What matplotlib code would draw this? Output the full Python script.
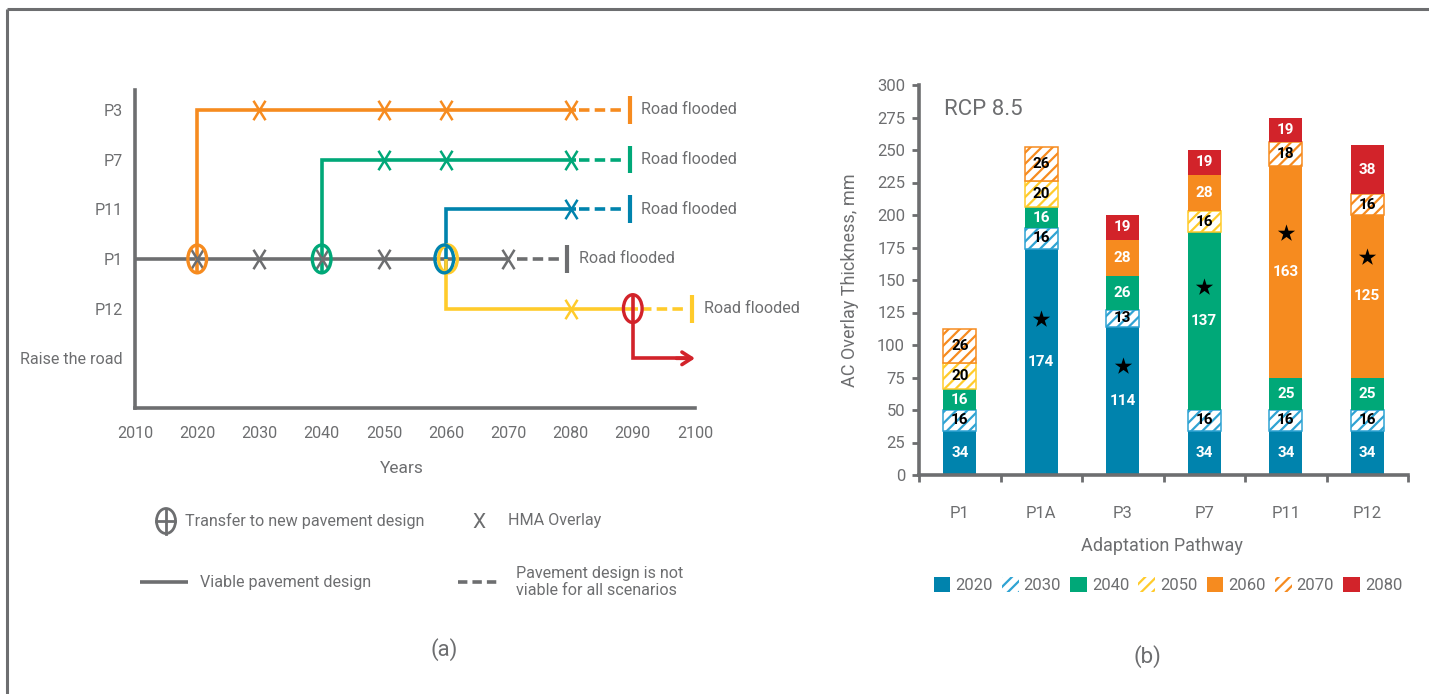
import matplotlib
matplotlib.use('Agg')
import matplotlib.pyplot as plt
import numpy as np
from matplotlib.patches import Ellipse, Patch
from matplotlib.path import Path

plt.rcParams['font.family'] = ['Roboto', 'DejaVu Sans']
plt.rcParams['hatch.linewidth'] = 1.6

GRAY = '#6d6e70'
TXT = '#6d6e70'
FS = 11.6

# ---------------- Panel (a) data ----------------
year_ticks = [2010, 2020, 2030, 2040, 2050, 2060, 2070, 2080, 2090, 2100]
row_labels = ['P3', 'P7', 'P11', 'P1', 'P12', 'Raise the road']
row_levels = [6, 5, 4, 3, 2, 1]

path_names = ['P1', 'P3', 'P7', 'P11', 'P12']
path_rows = [3, 6, 5, 4, 2]
path_branch = [2010, 2020, 2040, 2060, 2060]
path_solid_end = [2070, 2080, 2080, 2080, 2090]
path_flooded = [2080, 2090, 2090, 2090, 2100]

overlays_P1 = [2020, 2030, 2040, 2050, 2070]
overlays_P3 = [2030, 2050, 2060, 2080]
overlays_P7 = [2050, 2060, 2080]
overlays_P11 = [2080]
overlays_P12 = [2080]

transfer_years = [2020, 2040, 2060, 2060]
transfer_targets = ['P3', 'P7', 'P12', 'P11']

raise_year = 2090
raise_from_row = 2
raise_row = 1
raise_end = 2100

# ---------------- Panel (b) data ----------------
pathways = ['P1', 'P1A', 'P3', 'P7', 'P11', 'P12']
series_years = ['2020', '2030', '2040', '2050', '2060', '2070', '2080']
v2020 = [34, 174, 114, 34, 34, 34]
v2030 = [16, 16, 13, 16, 16, 16]
v2040 = [16, 16, 26, 137, 25, 25]
v2050 = [20, 20, 0, 16, 0, 0]
v2060 = [0, 0, 28, 28, 163, 125]
v2070 = [26, 26, 0, 0, 18, 16]
v2080 = [0, 0, 19, 19, 19, 38]
star_values = [np.nan, 120, 84, 145, 186, 168]
y_ticks_b = list(range(0, 301, 25))

# ---------------- styles ----------------
path_colors = {'P1': GRAY, 'P3': '#F68B1F', 'P7': '#00A878',
               'P11': '#0083AD', 'P12': '#FFCB2B', 'raise': '#D2232A'}
series_colors = ['#0083AD', '#2FA3D3', '#00A878', '#FFCB2B', '#F68B1F', '#F68B1F', '#D2232A']
series_hatched = [False, True, False, True, False, True, False]

xmark = Path([(-0.62, -1), (0.62, 1), (-0.62, 1), (0.62, -1)],
             [Path.MOVETO, Path.LINETO, Path.MOVETO, Path.LINETO])

fig = plt.figure(figsize=(14.29, 6.94), dpi=100)

# overlay axes in pixel coordinates for frame & legend (a)
lax = fig.add_axes([0, 0, 1, 1])
lax.set_xlim(0, 1429)
lax.set_ylim(694, 0)
lax.axis('off')

# frame lines
lax.plot([7, 1429], [9, 9], color=GRAY, lw=2.2, solid_capstyle='butt')
lax.plot([7, 7], [9, 694], color=GRAY, lw=2.2, solid_capstyle='butt')

# ---------------- Panel (a) ----------------
ax = fig.add_axes([135 / 1429, 1 - 408 / 694, 560 / 1429, 318 / 694])
ax.set_facecolor('none')
ax.set_xlim(2010, 2100)
ax.set_ylim(0, 6.4)
for s in ['top', 'right']:
    ax.spines[s].set_visible(False)
for s in ['left', 'bottom']:
    ax.spines[s].set_color(GRAY)
    ax.spines[s].set_linewidth(2.6)
ax.set_xticks(year_ticks)
ax.set_yticks(row_levels, row_labels)
ax.tick_params(axis='x', length=0, pad=13, labelsize=FS, labelcolor=TXT)
ax.tick_params(axis='y', length=0, pad=9, labelsize=FS, labelcolor=TXT)

LW = 2.6
EH = 0.28  # half-height of the ellipse in row units
EW = 3.0   # ellipse width in years
overlay_lists = {'P1': overlays_P1, 'P3': overlays_P3, 'P7': overlays_P7,
                 'P11': overlays_P11, 'P12': overlays_P12}

for name, r, b, se, fl in zip(path_names, path_rows, path_branch, path_solid_end, path_flooded):
    c = path_colors[name]
    if name == 'P1':
        xs, ys = [b, se + 0.3], [r, r]
    else:
        start = 3 - EH if r > 3 else 3
        xs, ys = [b, b, se + 0.8], [start, r, r]
    ax.plot(xs, ys, color=c, lw=LW, solid_joinstyle='miter', solid_capstyle='butt',
            zorder=2, clip_on=False)
    ax.plot([se + 1.4, fl - 1.1], [r, r], color=c, lw=LW, ls=(0, (2.9, 1.45)),
            dash_capstyle='butt', zorder=2, clip_on=False)
    ax.plot([fl - 0.5, fl - 0.5], [r - 0.28, r + 0.28], color=c, lw=3.0,
            solid_capstyle='butt', zorder=2, clip_on=False)
    ax.text(fl + 1.4, r, 'Road flooded', va='center', ha='left', fontsize=FS, color=TXT)
    ov = overlay_lists[name]
    ax.plot(ov, [r] * len(ov), ls='none', marker=xmark, ms=14, mew=1.8,
            color=c, zorder=3, clip_on=False)

# transfer circles on P1
offsets = {'P3': 0.0, 'P7': 0.0, 'P12': 0.3, 'P11': -0.3}
for yr, tgt in zip(transfer_years, transfer_targets):
    e = Ellipse((yr + offsets[tgt], 3), width=EW, height=2 * EH, fill=False,
                ec=path_colors[tgt], lw=2.4, zorder=4)
    ax.add_patch(e)

# raise the road
rc = path_colors['raise']
ax.add_patch(Ellipse((raise_year, raise_from_row), width=EW, height=2 * EH, fill=False,
                     ec=rc, lw=2.4, zorder=4))
ax.plot([raise_year, raise_year, raise_end - 0.6], [raise_from_row + EH, raise_row, raise_row],
        color=rc, lw=LW, solid_joinstyle='miter', solid_capstyle='butt', zorder=4, clip_on=False)
ax.annotate('', xy=(raise_end, raise_row), xytext=(raise_end - 3, raise_row),
            arrowprops=dict(arrowstyle='->,head_length=0.7,head_width=0.45', color=rc,
                            lw=LW, shrinkA=0, shrinkB=0), annotation_clip=False)

# texts panel (a)
lax.text(402, 468, 'Years', ha='center', va='center', fontsize=12.5, color=TXT)
lax.text(444, 650, '(a)', ha='center', va='center', fontsize=16, color=TXT)

# legend (a)
lax.add_patch(Ellipse((166, 521), width=19, height=25, fill=False, ec=GRAY, lw=2.0))
lax.plot([166, 166], [508.5, 533.5], color=GRAY, lw=2.0)
lax.plot([156.5, 175.5], [521, 521], color=GRAY, lw=2.0)
lax.text(185, 521, 'Transfer to new pavement design', va='center', ha='left',
         fontsize=FS, color=TXT)
lax.text(479, 522, 'X', va='center', ha='center', fontsize=15, color=TXT)
lax.text(508, 521, 'HMA Overlay', va='center', ha='left', fontsize=FS, color=TXT)
lax.plot([140, 188], [582, 582], color=GRAY, lw=LW, solid_capstyle='butt')
lax.text(200, 582, 'Viable pavement design', va='center', ha='left', fontsize=FS, color=TXT)
lax.plot([458, 497], [582, 582], color=GRAY, lw=LW, ls=(0, (2.6, 1.4)), dash_capstyle='butt')
lax.text(516, 582, 'Pavement design is not\nviable for all scenarios', va='center',
         ha='left', fontsize=FS, color=TXT, linespacing=1.2)

# ---------------- Panel (b) ----------------
axb = fig.add_axes([919 / 1429, 1 - 475 / 694, 489 / 1429, 390 / 694])
axb.set_facecolor('none')
x = np.arange(len(pathways))
all_series = [v2020, v2030, v2040, v2050, v2060, v2070, v2080]
bottom = np.zeros(len(pathways))
W = 0.41
for vals, col, hat in zip(all_series, series_colors, series_hatched):
    v = np.array(vals, dtype=float)
    m = v > 0
    if hat:
        axb.bar(x[m], v[m], bottom=bottom[m], width=W, color='white', edgecolor=col,
                hatch='///', lw=1.1, zorder=2)
    else:
        axb.bar(x[m], v[m], bottom=bottom[m], width=W, color=col, lw=0, zorder=2)
    for xi, vi, bi in zip(x[m], v[m], bottom[m]):
        axb.text(xi, bi + vi / 2, f'{int(vi)}', ha='center', va='center', fontsize=11,
                 fontweight='bold', color='black' if hat else 'white', zorder=4)
    bottom += v

axb.scatter(x, star_values, marker='*', s=170, color='black', zorder=5, lw=0)

axb.set_xlim(-0.5, len(pathways) - 0.5)
axb.set_ylim(0, 300)
for s in ['top', 'right']:
    axb.spines[s].set_visible(False)
for s in ['left', 'bottom']:
    axb.spines[s].set_color(GRAY)
    axb.spines[s].set_linewidth(2.6)
axb.set_yticks(y_ticks_b)
axb.set_xticks(x, pathways)
axb.set_xticks(np.arange(len(pathways) + 1) - 0.5, minor=True)
axb.tick_params(axis='y', length=5, width=2, color=GRAY, labelsize=12, labelcolor=TXT, pad=5)
axb.tick_params(axis='x', which='major', length=0, pad=22, labelsize=12, labelcolor=TXT)
axb.tick_params(axis='x', which='minor', length=5, width=2, color=GRAY)

axb.text(0.051, 0.936, 'RCP 8.5', transform=axb.transAxes, ha='left', va='center',
         fontsize=16, color=TXT)
lax.text(850, 280, 'AC Overlay Thickness, mm', rotation=90, ha='center', va='center',
         fontsize=13, color=TXT)
lax.text(1162, 546, 'Adaptation Pathway', ha='center', va='center', fontsize=13, color=TXT)
lax.text(1147, 657, '(b)', ha='center', va='center', fontsize=16, color=TXT)

handles = []
for col, hat in zip(series_colors, series_hatched):
    if hat:
        handles.append(Patch(facecolor='white', edgecolor=col, hatch='///', lw=0))
    else:
        handles.append(Patch(facecolor=col, edgecolor=col, lw=0))
axb.legend(handles, series_years, loc='center', bbox_to_anchor=(1168 / 1429, 1 - 585 / 694),
           bbox_transform=fig.transFigure, ncol=7, frameon=False, fontsize=12,
           handlelength=1.0, handleheight=1.0, handletextpad=0.3, columnspacing=0.55,
           labelcolor=TXT)

fig.savefig('out.png', dpi=100)
